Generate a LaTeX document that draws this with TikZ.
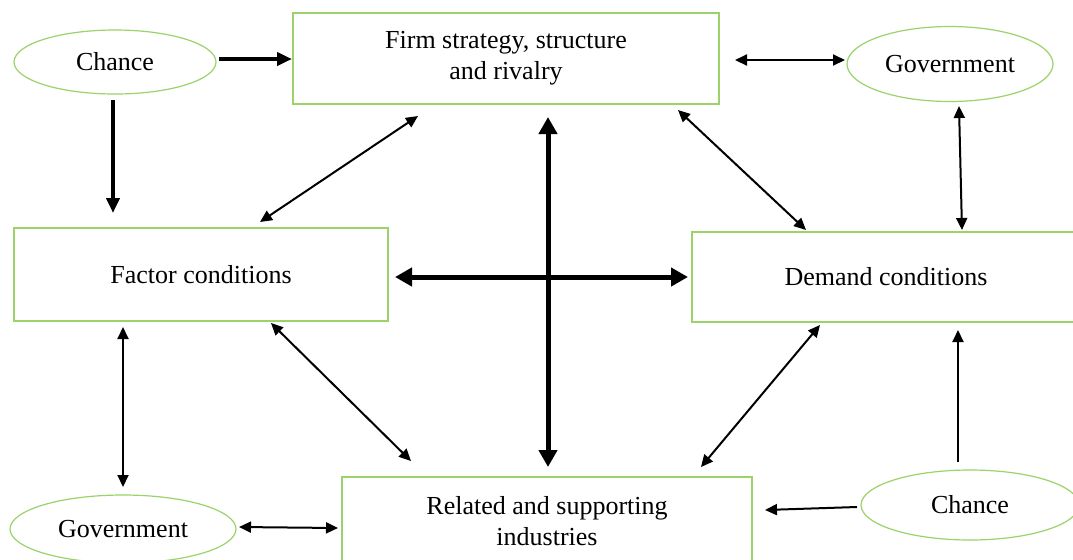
\documentclass[tikz,border=0pt]{standalone}
\usepackage{fontspec}
\setmainfont{Liberation Serif}
\usetikzlibrary{shapes.geometric,arrows.meta}
\definecolor{boxgreen}{RGB}{155,211,106}
\tikzset{
  box/.style={draw=boxgreen,line width=0.7pt,rectangle,inner sep=0pt,outer sep=0pt,align=center,font=\fontsize{13}{15.5}\selectfont},
  oval/.style={draw=boxgreen,line width=0.6pt,ellipse,inner sep=0pt,outer sep=0pt,font=\fontsize{13}{15.5}\selectfont},
  thinarr/.style={line width=1pt,{Triangle[length=6pt,width=5.5pt]}-{Triangle[length=6pt,width=5.5pt]}},
  thinone/.style={line width=1pt,-{Triangle[length=6pt,width=5.5pt]}},
  midarr/.style={line width=2pt,-{Triangle[length=7.5pt,width=6.5pt]}},
  bigarr/.style={line width=2.5pt,{Triangle[length=8.5pt,width=9pt]}-{Triangle[length=8.5pt,width=9pt]}}
}
\begin{document}
\begin{tikzpicture}[x=0.5pt,y=-0.5pt]
\useasboundingbox (0,0) rectangle (1073,559);
\clip (0,0) rectangle (1073,559);
\fill[white] (0,0) rectangle (1073,559);
% boxes
\node[box,minimum width=213pt,minimum height=45.5pt] (firm) at (506,58.5) {Firm strategy, structure\\and rivalry};
\node[box,minimum width=187pt,minimum height=46.5pt] (factor) at (201,274.5) {Factor conditions};
\node[box,minimum width=194pt,minimum height=45pt] (demand) at (886,277) {Demand conditions};
\node[box,minimum width=205pt,minimum height=44pt] (related) at (547,521) {Related and supporting\\industries};
% ovals
\node[oval,minimum width=101pt,minimum height=32pt] (chance1) at (115,62) {Chance};
\node[oval,minimum width=103pt,minimum height=37.5pt] (gov1) at (950,64) {Government};
\node[oval,minimum width=113pt,minimum height=34pt] (gov2) at (123,529) {Government};
\node[oval,minimum width=109pt,minimum height=35pt] (chance2) at (970,505) {Chance};
% connectors
\draw[midarr] ([shift={(3,-3)}]chance1.east) -- ([shift={(-1,0.5)}]firm.west);
\draw[midarr] ([shift={(-2,6)}]chance1.south) -- ([shift={(-88,-15)}]factor.north);
\draw[thinarr] ([shift={(16,1.5)}]firm.east) -- ([shift={(-2,-4)}]gov1.west);
\draw[thinarr] ([shift={(125,12)}]firm.south west) -- ([shift={(-128,-6)}]factor.north east);
\draw[thinarr] ([shift={(-41,6)}]firm.south east) -- ([shift={(114,-2)}]demand.north west);
\draw[thinarr] ([shift={(9,4.5)}]gov1.south) -- ([shift={(76,-2)}]demand.north);
\draw[bigarr] ([shift={(42,13)}]firm.south) -- ([shift={(1,-10)}]related.north);
\draw[bigarr] ([shift={(7,2.5)}]factor.east) -- ([shift={(-4,0)}]demand.west);
\draw[thinarr] ([shift={(-78,6)}]factor.south) -- ([shift={(0,-8)}]gov2.north);
\draw[thinarr] ([shift={(-117,2)}]factor.south east) -- ([shift={(69,-16)}]related.north west);
\draw[thinarr] ([shift={(128,3)}]demand.south west) -- ([shift={(-51,-10)}]related.north east);
\draw[thinarr] ([shift={(3,-2)}]gov2.east) -- ([shift={(-4,7)}]related.west);
\draw[thinone] ([shift={(-4,2)}]chance2.west) -- ([shift={(13,-11)}]related.east);
\draw[thinone] ([shift={(-12,-8)}]chance2.north) -- ([shift={(72,8)}]demand.south);
\end{tikzpicture}
\end{document}
